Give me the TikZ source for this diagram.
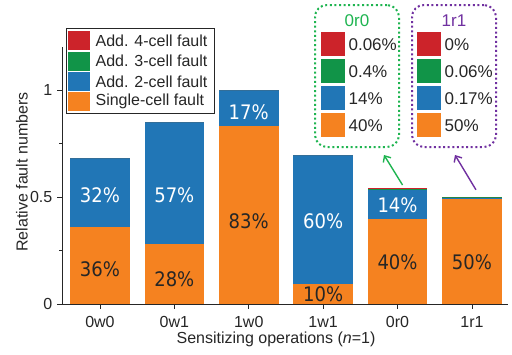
\documentclass[tikz,border=0pt]{standalone}
\usepackage{fontspec}
\setmainfont{Liberation Sans}
\newfontfamily\pctfont[FakeStretch=0.9]{DejaVu Sans}
\usetikzlibrary{arrows.meta,positioning,calc}

\definecolor{singleC}{RGB}{245,130,32}
\definecolor{twoC}{RGB}{33,118,182}
\definecolor{threeC}{RGB}{17,148,72}
\definecolor{fourC}{RGB}{204,35,42}
\definecolor{inkC}{RGB}{38,38,38}
\definecolor{greenbox}{RGB}{30,180,80}
\definecolor{purplebox}{RGB}{112,48,160}

\begin{document}
\begin{tikzpicture}[
  x=1pt, y=-1pt,
  >={Straight Barb[length=5pt,width=9pt]},
  txt/.style={font=\fontsize{16}{18}\selectfont, text=inkC, inner sep=0pt},
  pct/.style={font=\pctfont\fontsize{20}{22}\selectfont, inner sep=0pt},
  swatch/.style={minimum width=22pt, minimum height=19pt, inner sep=0pt, anchor=north west},
  inswatch/.style={minimum width=24pt, minimum height=24pt, inner sep=0pt, anchor=north west},
  inset/.style={draw=#1, line width=2pt, dash pattern=on 2pt off 2.6pt, rounded corners=12pt,
    minimum width=84pt, minimum height=142pt, inner sep=0pt, anchor=north west},
  axisline/.style={draw=inkC, line width=0.8pt}
]
\useasboundingbox (0,0) rectangle (512,354);

% Bars and axes
\begin{scope}[shift={(62,304)}, x=74.4pt, y=214pt]
  \foreach \op/\sgl/\two/\thr/\fou [count=\i] in {0w0/0.36/0.32/0/0, 0w1/0.28/0.57/0/0,
      1w0/0.83/0.17/0/0, 1w1/0.095/0.60/0/0, 0r0/0.395/0.14/0.003/0.004, 1r1/0.493/0.002/0.006/0} {
    \pgfmathsetmacro\xc{\i-0.49}
    \pgfmathsetmacro\ya{\sgl+\two}
    \pgfmathsetmacro\yb{\ya+\thr}
    \pgfmathsetmacro\yc{\yb+\fou}
    \fill[singleC] (\xc-0.4,0) rectangle (\xc+0.4,\sgl);
    \fill[twoC] (\xc-0.4,\sgl) rectangle (\xc+0.4,\ya);
    \fill[threeC] (\xc-0.4,\ya) rectangle (\xc+0.4,\yb);
    \fill[fourC] (\xc-0.4,\yb) rectangle (\xc+0.4,\yc);
    \coordinate (base-\op) at (\xc,0);
    \coordinate (top-\op) at (\xc,\yc);
    \draw[axisline] (base-\op) -- ++(0,-5pt);
    \node[txt] (xt-\op) at ([yshift=-18pt]base-\op) {\op};
  }

  % percentages inside the bars
  \foreach \op/\v/\t/\c in {0w0/0.164/36/inkC, 0w0/0.509/32/white, 0w1/0.117/28/inkC,
      0w1/0.509/57/white, 1w0/0.388/83/inkC, 1w0/0.897/17/white, 1w1/0.047/10/inkC,
      1w1/0.388/60/white, 0r0/0.196/40/inkC, 0r0/0.462/14/white, 1r1/0.196/50/inkC}
    \node[pct, text=\c] at ($(base-\op)+(0,\v)$) {\t\%};

  \draw[axisline] (0,1.2) -- (0,0) -- (6,0);
  \foreach \v/\t [count=\k] in {0/0, 0.5/0.5, 1/1} {
    \draw[axisline] (0,\v) -- ++(-5pt,0);
    \node[txt, anchor=east] (yt-\k) at ([xshift=-9.5pt]0,\v) {\t};
  }
  \foreach \v in {0.25, 0.75}
    \draw[axisline] (0,\v) -- ++(-3pt,0);
\end{scope}

\node[txt, rotate=90] (ylab) at (22,172) {Relative fault numbers};
\node[txt] (xlab) at (276,339) {Sensitizing operations (\textit{n}=1)};

% Legend
\node[draw=inkC, line width=0.6pt, minimum width=148pt, minimum height=85pt,
  inner sep=0pt, anchor=north west] (legend) at (66,28) {};
\foreach \c/\t [count=\k] in {fourC/Add. 4-cell fault, threeC/Add. 3-cell fault,
    twoC/Add. 2-cell fault, singleC/Single-cell fault} {
  \pgfmathsetmacro\rowy{31+20.3*(\k-1)}
  \node[swatch, fill=\c] (lg-\k) at (68,\rowy) {};
  \node[txt, right=5pt of lg-\k] (lt-\k) {\t};
}

% Zoomed-in breakdowns
\node[inset=greenbox] (box-0r0) at (314,4) {};
\node[inset=purplebox] (box-1r1) at (411,4) {};
\foreach \bx/\dx/\col/\va/\vb/\vc/\vd in {0r0/7/greenbox/0.06/0.4/14/40,
    1r1/6/purplebox/0/0.06/0.17/50} {
  \node[txt, text=\col, font=\fontsize{17}{19}\selectfont] (ttl-\bx) at ([yshift=-17pt]box-\bx.north) {\bx};
  \foreach \c/\v [count=\k] in {fourC/\va, threeC/\vb, twoC/\vc, singleC/\vd} {
    \pgfmathsetmacro\rowy{-28-27*(\k-1)}
    \node[inswatch, fill=\c] (sw-\bx-\k) at ([xshift=\dx pt, yshift=\rowy pt]box-\bx.north west) {};
    \node[txt, font=\fontsize{17}{19}\selectfont, right=3pt of sw-\bx-\k] (sv-\bx-\k) {\v\%};
  }
}

% Connections
\draw[->, greenbox, line width=1.4pt] ([xshift=5pt,yshift=3pt]top-0r0) -- ([xshift=27pt,yshift=-7pt]box-0r0.south);
\draw[->, purplebox, line width=1.4pt] ([xshift=4pt,yshift=7pt]top-1r1) -- ([xshift=1pt,yshift=-7pt]box-1r1.south);

\end{tikzpicture}
\end{document}
